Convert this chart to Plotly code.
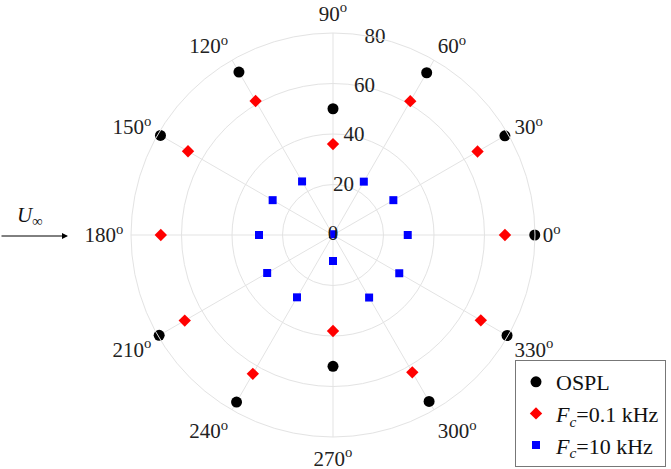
import plotly.graph_objects as go

# ---- data ----
angles = [0, 30, 60, 90, 120, 150, 180, 210, 240, 270, 300, 330]
ospl = [79.9, 78.6, 74.2, 50.0, 74.5, 78.9, None, 79.5, 76.4, 52.0, 76.1, 79.6]
fc_01 = [68.1, 66.1, 61.2, 36.0, 61.3, 66.3, 68.2, 67.8, 63.5, 38.0, 62.8, 67.6]
fc_10 = [29.6, 27.6, 24.4, 0.3, 24.5, 27.6, 29.3, 30.1, 28.5, 10.3, 28.6, 30.3]
radial_ticks = [0, 20, 40, 60, 80]
angle_labels = [f"{a}<sup>o</sup>" for a in angles]

FONT = "Liberation Serif"
W, H = 671, 469
cx, cy, R = 333, 235, 202
RADIAL_LABEL_ANGLE = 78

fig = go.Figure()
fig.add_trace(go.Scatterpolar(r=ospl, theta=angles, mode="markers", name="OSPL",
                              marker=dict(symbol="circle", size=11, color="black")))
fig.add_trace(go.Scatterpolar(r=fc_01, theta=angles, mode="markers",
                              name="<i>F<sub>c</sub></i>=0.1 kHz",
                              marker=dict(symbol="diamond", size=9.5, color="red")))
fig.add_trace(go.Scatterpolar(r=fc_10, theta=angles, mode="markers",
                              name="<i>F<sub>c</sub></i>=10 kHz",
                              marker=dict(symbol="square", size=8, color="blue")))
fig.add_trace(go.Scatterpolar(r=radial_ticks, theta=[RADIAL_LABEL_ANGLE] * len(radial_ticks),
                              mode="text", text=[str(v) for v in radial_ticks],
                              textfont=dict(family=FONT, size=21, color="#222"),
                              showlegend=False, hoverinfo="skip"))

fig.update_layout(
    width=W, height=H,
    margin=dict(l=0, r=0, t=0, b=0),
    paper_bgcolor="white",
    font=dict(family=FONT, size=21, color="#222"),
    polar=dict(
        domain=dict(x=[(cx - R) / W, (cx + R) / W], y=[1 - (cy + R) / H, 1 - (cy - R) / H]),
        bgcolor="white",
        radialaxis=dict(range=[0, 80], tickvals=radial_ticks, showticklabels=False,
                        showline=False, ticks="", gridcolor="#e3e3e3", gridwidth=1),
        angularaxis=dict(rotation=0, direction="counterclockwise",
                         tickvals=angles, ticktext=angle_labels,
                         ticks="outside", ticklen=3, tickcolor="rgba(0,0,0,0)",
                         tickfont=dict(family=FONT, size=21, color="#222"),
                         showline=True, linecolor="#e3e3e3", linewidth=1,
                         gridcolor="#e3e3e3", gridwidth=1),
    ),
    legend=dict(x=666 / W, xanchor="right", y=(H - 467) / H, yanchor="bottom",
                bgcolor="white", bordercolor="#777", borderwidth=1,
                font=dict(family=FONT, size=22, color="#111"),
                tracegroupgap=0, itemsizing="trace"),
    showlegend=True,
)

fig.add_annotation(xref="paper", yref="paper", x=68 / W, y=1 - 236 / H,
                   ax=-68, ay=0, text="", showarrow=True, arrowhead=2,
                   arrowsize=1.2, arrowwidth=1, arrowcolor="black")
fig.add_annotation(xref="paper", yref="paper", x=30 / W, y=1 - 216 / H,
                   xanchor="center", yanchor="middle",
                   text="<i>U</i><sub>∞</sub>", showarrow=False,
                   font=dict(family=FONT, size=21, color="#111"))

fig.write_html("out.html", config={"displayModeBar": False},
               post_script="document.body.style.margin='0';")
